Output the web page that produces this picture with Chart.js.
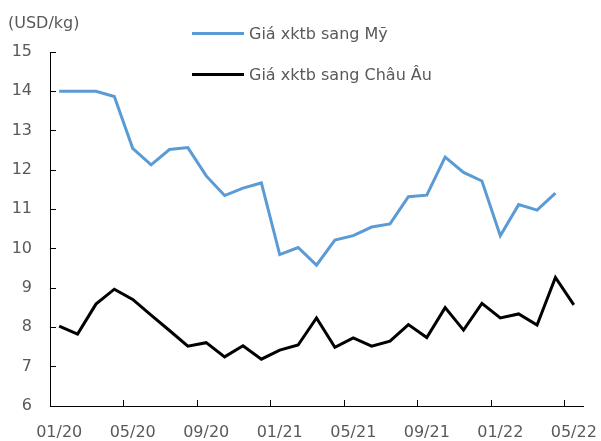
<!DOCTYPE html>
<html>
<head>
<meta charset="utf-8">
<script src="https://cdn.jsdelivr.net/npm/chart.js"></script>
<style>
  body { margin: 0; background: #fff; }
  #wrap { position: relative; width: 601px; height: 441px; font-family: 'DejaVu Sans', sans-serif; color: #595959; }
  #unit { position: absolute; left: 8px; top: 13px; font-size: 16px; line-height: 20px; }
  .leg { position: absolute; left: 192px; font-size: 16px; line-height: 20px; white-space: nowrap; }
  .leg .swatch { display: inline-block; width: 52px; height: 3px; vertical-align: middle; margin-right: 5px; position: relative; top: -1px; }
</style>
</head>
<body>
<div id="wrap">
  <canvas id="myChart"></canvas>
  <div id="unit">(USD/kg)</div>
  <div id="legend"></div>
</div>
<script>
// months 01/20 .. 05/22
const months = ['01/20','02/20','03/20','04/20','05/20','06/20','07/20','08/20','09/20','10/20','11/20','12/20',
                '01/21','02/21','03/21','04/21','05/21','06/21','07/21','08/21','09/21','10/21','11/21','12/21',
                '01/22','02/22','03/22','04/22','05/22'];

const usPrice = [14.0, 14.0, 14.0, 13.87, 12.55, 12.13, 12.52, 12.57, 11.85, 11.35, 11.54, 11.67,
                 9.85, 10.03, 9.58, 10.22, 10.33, 10.55, 10.63, 11.32, 11.36, 12.33, 11.94, 11.72,
                 10.33, 11.12, 10.98, 11.41, null];

const euPrice = [8.03, 7.83, 8.59, 8.97, 8.71, 8.31, 7.92, 7.52, 7.61, 7.25, 7.53, 7.19,
                 7.42, 7.55, 8.24, 7.49, 7.73, 7.52, 7.65, 8.07, 7.74, 8.50, 7.93, 8.61,
                 8.24, 8.34, 8.06, 9.27, 8.57];

const seriesNames = ['Giá xktb sang Mỹ', 'Giá xktb sang Châu Âu'];
const seriesColors = ['#5B9BD5', '#000000'];

const tickFont = { family: 'DejaVu Sans', size: 16 };

var myChart = new Chart(
    document.getElementById('myChart'),
    {
        type: 'line',
        data: {
            labels: months,
            datasets: [
                { label: seriesNames[0], data: usPrice, borderColor: seriesColors[0], backgroundColor: seriesColors[0], borderWidth: 3, pointRadius: 0, tension: 0 },
                { label: seriesNames[1], data: euPrice, borderColor: seriesColors[1], backgroundColor: seriesColors[1], borderWidth: 3, pointRadius: 0, tension: 0 }
            ]
        },
        options: {
            responsive: true,
            maintainAspectRatio: false,
            animation: false,
            layout: { padding: { top: 52, right: 18, left: 0, bottom: 0 } },
            plugins: {
                legend: { display: false },
                tooltip: { enabled: false }
            },
            scales: {
                x: {
                    offset: true,
                    grid: {
                        offset: true,
                        drawOnChartArea: false,
                        tickLength: -6,
                        tickColor: function(ctx) { return ctx.index % 4 === 0 ? '#000' : 'rgba(0,0,0,0)'; }
                    },
                    border: { color: '#000', width: 1 },
                    ticks: {
                        autoSkip: false,
                        maxRotation: 0,
                        padding: 23,
                        color: '#595959',
                        font: tickFont,
                        callback: function(v, i) { return i % 4 === 0 ? months[i] : ''; }
                    },
                    afterFit: function(scale) {
                        scale.height = 35;
                        scale.paddingLeft = 0;
                        scale.paddingRight = 0;
                    }
                },
                y: {
                    min: 6,
                    max: 15,
                    grid: { drawOnChartArea: false, tickLength: -6, tickColor: '#000' },
                    border: { color: '#000', width: 1 },
                    ticks: { stepSize: 1, padding: 24, color: '#595959', font: tickFont },
                    afterFit: function(scale) { scale.width = 50; }
                }
            }
        }
    }
);

// legend, built from the dataset names/colours
const legendTops = [24, 65];
seriesNames.forEach(function(name, i) {
    const row = document.createElement('div');
    row.className = 'leg';
    row.style.top = legendTops[i] + 'px';
    row.innerHTML = '<span class="swatch" style="background:' + seriesColors[i] + '"></span>' + name;
    document.getElementById('wrap').appendChild(row);
});
</script>
</body>
</html>
